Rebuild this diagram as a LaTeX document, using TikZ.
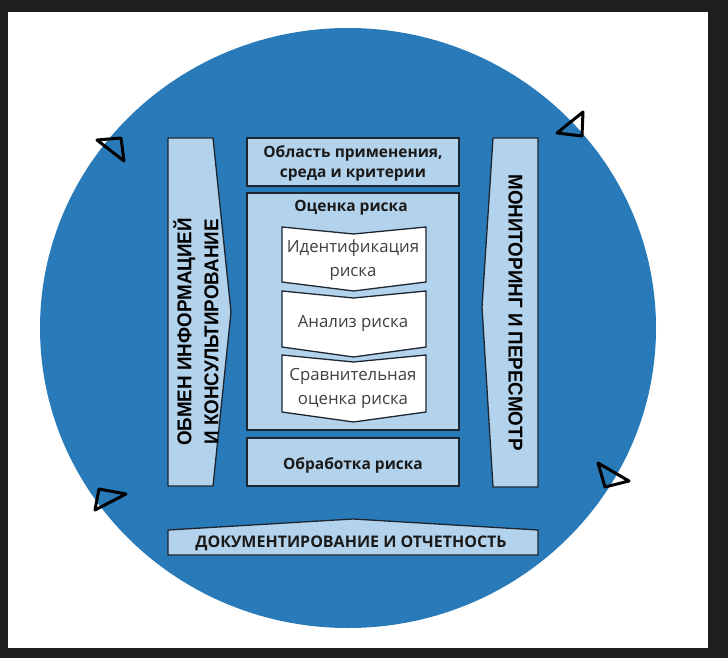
\documentclass[tikz,border=0pt]{standalone}
\usepackage{fontspec}
\setmainfont{Open Sans}
\newfontfamily\vfont[FakeStretch=0.94]{Liberation Sans}
\definecolor{framec}{HTML}{1E1E1E}
\definecolor{circblue}{HTML}{287AB9}
\definecolor{lightb}{HTML}{B3D2EB}
\definecolor{edgec}{HTML}{1C2530}
\definecolor{txtdark}{HTML}{1A1A1A}
\definecolor{txtgray}{HTML}{404040}
\begin{document}
\begin{tikzpicture}[x=1pt,y=-1pt,
  boxst/.style={draw=edgec,fill=lightb,line width=1.3pt,line join=miter},
  chev/.style={draw=edgec,fill=white,line width=1.3pt,line join=miter},
  tri/.style={draw=black,line width=3pt,line join=round},
  head/.style={font=\fontsize{15.5}{20}\selectfont\bfseries,text=txtdark,align=center,inner sep=0pt},
  chtxt/.style={font=\fontsize{16.8}{24}\selectfont,text=txtgray,align=center,inner sep=0pt},
  vtxt/.style={font=\vfont\fontsize{20}{27}\selectfont\bfseries,text=black,align=center,inner sep=0pt}]
\useasboundingbox (0,0) rectangle (728,658);
\fill[framec] (0,0) rectangle (728,658);
\fill[white] (8,12) rectangle (708,648);
\fill[circblue] (348,328) ellipse [x radius=308, y radius=300];
% direction markers
\draw[tri] (97,140) -- (121,138) -- (124,161) -- cycle;
\draw[tri] (557,133) -- (583,112) -- (582,136) -- cycle;
\draw[tri] (95,510) -- (99,489) -- (126,494) -- cycle;
\draw[tri] (598,463) -- (605,487) -- (629,481) -- cycle;
% side arrows
\draw[boxst] (168,138) -- (213,138) -- (231,312) -- (213,486) -- (168,486) -- cycle;
\draw[boxst] (493,138) -- (538,138) -- (538,487) -- (493,487) -- (482,307) -- cycle;
\draw[boxst] (168,530) -- (353,519) -- (538,530) -- (538,555) -- (168,555) -- cycle;
% central boxes
\draw[boxst] (247,138) rectangle (459,186);
\draw[boxst] (247,193) rectangle (459,430);
\draw[boxst] (247,438) rectangle (459,486);
% chevrons
\draw[chev] (282,227) -- (353.5,234) -- (426,227) -- (426,282) -- (353.5,291) -- (282,282) -- cycle;
\draw[chev] (282,291) -- (353.5,298) -- (426,291) -- (426,347) -- (353.5,357) -- (282,347) -- cycle;
\draw[chev] (282,355) -- (353.5,362) -- (426,355) -- (426,412) -- (353.5,422) -- (282,412) -- cycle;
% texts
\node[head] (scope) at (353,163) {Область применения,\\среда и критерии};
\node[head] (assess) at (351,208) {Оценка риска};
\node[chtxt] (ident) at (353,260) {Идентификация\\риска};
\node[chtxt] (anal) at (353,323) {Анализ риска};
\node[chtxt] (eval) at (353,388) {Сравнительная\\оценка риска};
\node[head] (treat) at (353,465) {Обработка риска};
\node[head,font=\fontsize{16}{20}\selectfont\bfseries] (doc) at (351,543) {ДОКУМЕНТИРОВАНИЕ И ОТЧЕТНОСТЬ};
\node[vtxt,rotate=90] (comm) at (196,332) {ОБМЕН ИНФОРМАЦИЕЙ\\И КОНСУЛЬТИРОВАНИЕ};
\node[vtxt,rotate=-90] (mon) at (515.5,312.5) {МОНИТОРИНГ И ПЕРЕСМОТР};
\end{tikzpicture}
\end{document}
